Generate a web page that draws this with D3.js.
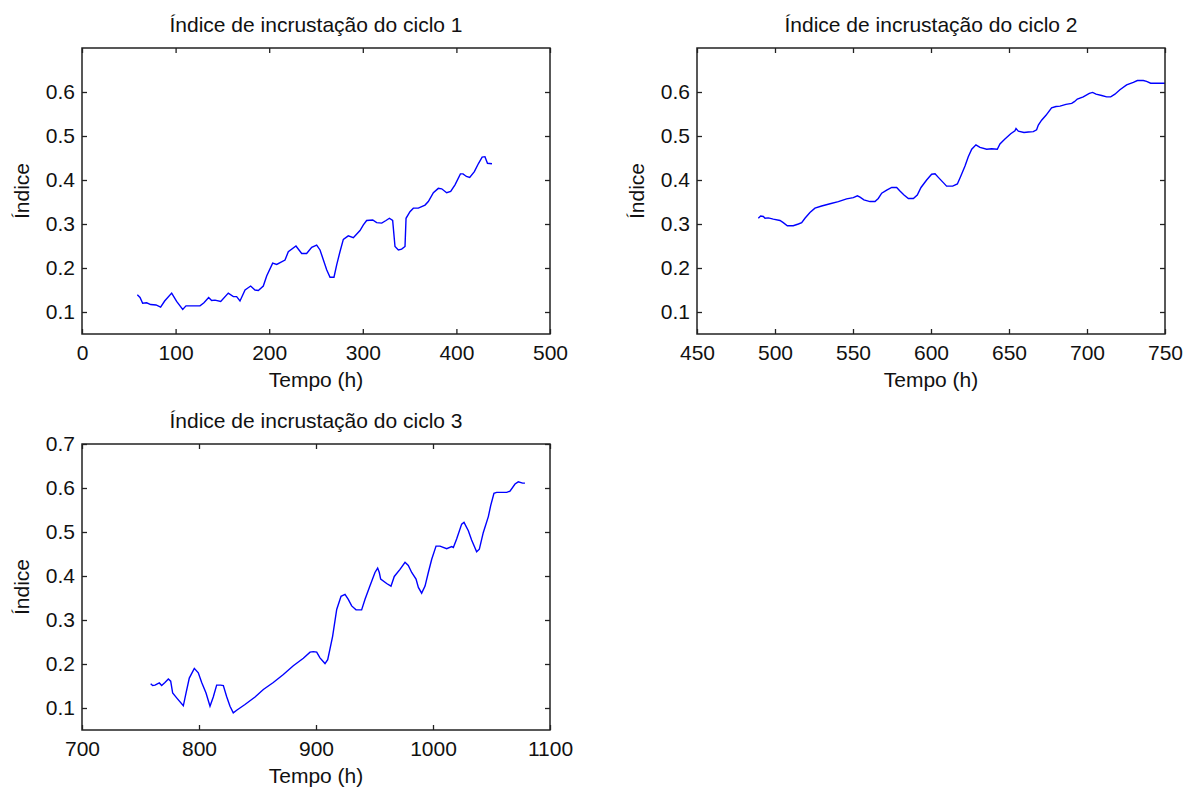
<!DOCTYPE html>
<html>
<head>
<meta charset="utf-8">
<script src="https://cdn.jsdelivr.net/npm/d3@7"></script>
<style>
  body { margin: 0; background: #fff; }
  svg text { font-family: "Liberation Sans", Arial, sans-serif; fill: #111; }
</style>
</head>
<body>
<div class="chart"></div>
<script>
// data

// ciclo 1
var cycle1Time = [59.1, 62.0, 64.8, 69.1, 73.4, 79.1, 84.0, 88.3, 95.8, 101.1, 107.6, 111.1, 126.1, 130.3, 135.3, 138.5, 142.1, 148.2, 156.3, 161.7, 165.2, 168.8, 174.2, 180.2, 184.8, 188.4, 193.7, 197.3, 203.7, 208.0, 216.9, 220.4, 228.6, 234.7, 240.0, 245.4, 250.7, 254.3, 261.4, 265.0, 269.2, 272.1, 275.6, 279.2, 284.5, 289.9, 297.0, 300.6, 304.1, 310.6, 314.8, 320.2, 324.8, 328.4, 331.9, 334.4, 338.0, 341.5, 345.1, 346.2, 350.4, 354.0, 359.3, 366.5, 370.0, 375.4, 380.7, 384.3, 389.6, 393.9, 398.5, 404.3, 407.1, 410.7, 414.2, 419.2, 423.7, 427.5, 430.5, 433.2, 438.0];
var cycle1Index = [0.139, 0.133, 0.120, 0.121, 0.117, 0.116, 0.111, 0.125, 0.143, 0.124, 0.106, 0.114, 0.114, 0.121, 0.133, 0.126, 0.127, 0.124, 0.143, 0.135, 0.135, 0.125, 0.150, 0.159, 0.150, 0.149, 0.159, 0.182, 0.211, 0.208, 0.218, 0.237, 0.250, 0.233, 0.233, 0.247, 0.252, 0.241, 0.196, 0.179, 0.179, 0.207, 0.237, 0.265, 0.273, 0.269, 0.285, 0.298, 0.308, 0.309, 0.303, 0.302, 0.308, 0.313, 0.308, 0.249, 0.241, 0.243, 0.249, 0.313, 0.328, 0.336, 0.336, 0.343, 0.351, 0.371, 0.381, 0.380, 0.371, 0.374, 0.389, 0.414, 0.414, 0.408, 0.406, 0.419, 0.438, 0.452, 0.453, 0.438, 0.437];

// ciclo 2
var cycle2Time = [489.3, 490.8, 492.5, 493.6, 495.7, 498.9, 503.2, 505.3, 507.9, 511.7, 515.0, 517.1, 519.2, 522.4, 525.6, 529.9, 535.3, 540.6, 545.9, 550.2, 552.8, 554.5, 557.0, 560.9, 564.1, 566.2, 568.4, 571.6, 574.8, 578.0, 580.1, 582.7, 585.5, 588.7, 591.2, 593.6, 597.2, 600.4, 602.6, 604.7, 607.9, 610.0, 613.9, 616.9, 619.0, 621.8, 623.9, 626.1, 628.8, 631.4, 635.7, 638.9, 642.5, 644.2, 647.4, 651.1, 653.8, 654.5, 656.0, 659.6, 662.4, 665.6, 667.7, 668.8, 670.9, 673.7, 677.3, 680.1, 682.7, 686.5, 690.2, 691.9, 693.8, 697.6, 701.5, 703.6, 705.8, 709.4, 712.6, 715.2, 717.9, 721.1, 725.4, 729.7, 732.3, 736.1, 738.2, 740.8, 744.6, 750.0];
var cycle2Index = [0.313, 0.318, 0.317, 0.313, 0.314, 0.311, 0.308, 0.303, 0.296, 0.296, 0.300, 0.303, 0.313, 0.326, 0.336, 0.341, 0.346, 0.351, 0.357, 0.360, 0.364, 0.361, 0.355, 0.351, 0.351, 0.358, 0.370, 0.377, 0.383, 0.383, 0.375, 0.366, 0.358, 0.358, 0.366, 0.383, 0.400, 0.413, 0.414, 0.406, 0.394, 0.386, 0.386, 0.391, 0.408, 0.432, 0.453, 0.470, 0.480, 0.474, 0.470, 0.471, 0.470, 0.482, 0.493, 0.505, 0.512, 0.517, 0.511, 0.508, 0.509, 0.510, 0.514, 0.525, 0.536, 0.547, 0.564, 0.567, 0.568, 0.572, 0.574, 0.578, 0.584, 0.589, 0.597, 0.599, 0.595, 0.592, 0.589, 0.589, 0.595, 0.605, 0.616, 0.622, 0.626, 0.626, 0.624, 0.620, 0.620, 0.620];

// ciclo 3
var cycle3Time = [758.7, 760.4, 762.4, 764.4, 766.1, 768.1, 770.9, 773.8, 775.8, 777.5, 780.9, 786.6, 788.9, 791.7, 796.0, 799.4, 802.3, 806.0, 809.4, 812.2, 815.1, 818.5, 820.8, 823.6, 826.5, 829.3, 832.2, 839.3, 847.9, 855.0, 863.5, 872.1, 880.6, 889.2, 894.9, 897.7, 900.6, 903.4, 907.7, 910.0, 912.0, 914.2, 917.7, 921.4, 924.8, 927.6, 930.5, 934.2, 939.0, 941.9, 945.6, 950.4, 952.7, 954.1, 955.3, 960.4, 964.1, 966.9, 971.8, 976.1, 978.9, 981.8, 985.5, 987.5, 990.3, 993.2, 996.0, 998.9, 1002.6, 1006.0, 1011.7, 1016.0, 1017.4, 1020.2, 1024.5, 1026.5, 1030.2, 1033.0, 1037.3, 1039.6, 1043.0, 1047.3, 1049.3, 1052.1, 1054.4, 1063.0, 1065.8, 1070.1, 1072.9, 1076.6, 1078.6];
var cycle3Index = [0.155, 0.151, 0.152, 0.155, 0.157, 0.151, 0.158, 0.166, 0.161, 0.134, 0.123, 0.105, 0.134, 0.168, 0.190, 0.180, 0.158, 0.134, 0.104, 0.125, 0.152, 0.152, 0.151, 0.126, 0.104, 0.089, 0.095, 0.108, 0.125, 0.142, 0.158, 0.176, 0.196, 0.213, 0.227, 0.228, 0.227, 0.214, 0.201, 0.210, 0.235, 0.263, 0.324, 0.354, 0.358, 0.347, 0.332, 0.323, 0.323, 0.347, 0.374, 0.408, 0.418, 0.408, 0.393, 0.383, 0.377, 0.399, 0.415, 0.431, 0.424, 0.408, 0.393, 0.374, 0.361, 0.377, 0.408, 0.438, 0.468, 0.468, 0.462, 0.467, 0.465, 0.484, 0.518, 0.522, 0.503, 0.482, 0.455, 0.461, 0.499, 0.535, 0.560, 0.588, 0.590, 0.590, 0.593, 0.609, 0.614, 0.611, 0.611];

// tick labels
var ticks1X = [0, 100, 200, 300, 400, 500];
var ticks2X = [450, 500, 550, 600, 650, 700, 750];
var ticks3X = [700, 800, 900, 1000, 1100];
var ticksY12 = [0.1, 0.2, 0.3, 0.4, 0.5, 0.6];
var ticksY3 = [0.1, 0.2, 0.3, 0.4, 0.5, 0.6, 0.7];

var titles = ["Índice de incrustação do ciclo 1", "Índice de incrustação do ciclo 2", "Índice de incrustação do ciclo 3"];

var svgWidth = 1184;
var svgHeight = 787;
var plotW = 468;
var plotH = 286;
var fontSize = "21px";

var svg = d3.select(".chart")
  .append("svg")
  .attr("width", svgWidth)
  .attr("height", svgHeight);

function drawPanel(left, top, times, values, xDomain, xTicks, yTicks, title) {
  var g = svg.append("g").attr("transform", "translate(" + left + "," + top + ")");

  var x = d3.scaleLinear().domain(xDomain).range([0, plotW]);
  var y = d3.scaleLinear().domain([0.05, 0.7]).range([plotH, 0]);

  // ticks point inward on all four sides, labels only bottom and left
  var bottom = g.append("g")
    .attr("transform", "translate(0," + plotH + ")")
    .call(d3.axisBottom(x).tickValues(xTicks).tickSize(-5).tickPadding(11).tickFormat(d3.format("d")));
  var leftAx = g.append("g")
    .call(d3.axisLeft(y).tickValues(yTicks).tickSize(-5).tickPadding(7).tickFormat(d3.format(".1f")));
  var topAx = g.append("g")
    .call(d3.axisTop(x).tickValues(xTicks).tickSize(-5).tickFormat(""));
  var rightAx = g.append("g")
    .attr("transform", "translate(" + plotW + ",0)")
    .call(d3.axisRight(y).tickValues(yTicks).tickSize(-5).tickFormat(""));

  [bottom, leftAx, topAx, rightAx].forEach(function(a) {
    a.select(".domain").remove();
    a.selectAll("line").attr("stroke", "#222").attr("stroke-width", 1.3);
    a.selectAll("text").style("font-size", fontSize).attr("fill", "#111");
  });

  // the line
  var pts = times.map(function(t, i) { return [t, values[i]]; });
  g.append("path")
    .datum(pts)
    .attr("fill", "none")
    .attr("stroke", "#0000ff")
    .attr("stroke-width", 1.4)
    .attr("d", d3.line().x(function(d) { return x(d[0]); }).y(function(d) { return y(d[1]); }));

  // box
  g.append("rect")
    .attr("width", plotW)
    .attr("height", plotH)
    .attr("fill", "none")
    .attr("stroke", "#222")
    .attr("stroke-width", 1.5);

  g.append("text")
    .attr("x", plotW / 2)
    .attr("y", -16)
    .attr("text-anchor", "middle")
    .style("font-size", fontSize)
    .text(title);

  g.append("text")
    .attr("x", plotW / 2)
    .attr("y", plotH + 53)
    .attr("text-anchor", "middle")
    .style("font-size", fontSize)
    .text("Tempo (h)");

  g.append("text")
    .attr("transform", "translate(-53," + (plotH / 2) + ") rotate(-90)")
    .attr("text-anchor", "middle")
    .style("font-size", fontSize)
    .text("Índice");
}

drawPanel(82, 48, cycle1Time, cycle1Index, [0, 500], ticks1X, ticksY12, titles[0]);
drawPanel(697, 48, cycle2Time, cycle2Index, [450, 750], ticks2X, ticksY12, titles[1]);
drawPanel(82, 444, cycle3Time, cycle3Index, [700, 1100], ticks3X, ticksY3, titles[2]);
</script>
</body>
</html>
